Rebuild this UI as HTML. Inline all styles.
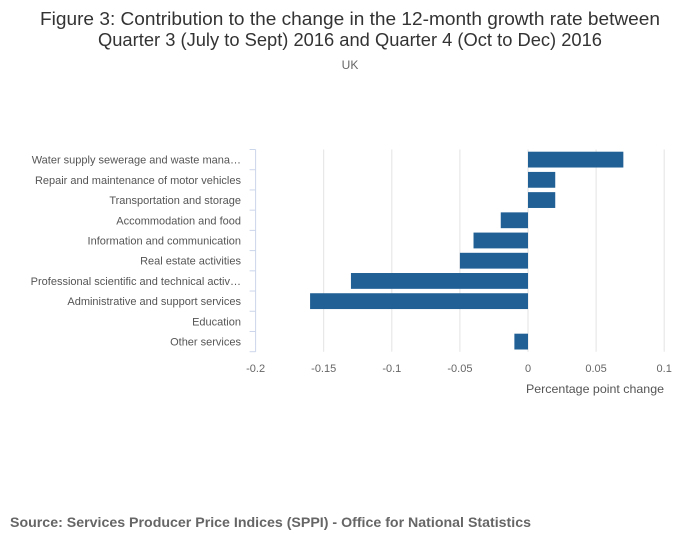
<!DOCTYPE html>
<html><head><meta charset="utf-8"><style>
body{margin:0;background:#fff;}
svg{display:block;font-family:"Liberation Sans",sans-serif;}
</style></head><body>
<svg id="chart" width="700" height="549" viewBox="0 0 700 549">
<text x="350" y="25" text-anchor="middle" font-size="18" fill="#333" textLength="620" lengthAdjust="spacingAndGlyphs">Figure 3: Contribution to the change in the 12-month growth rate between</text>
<text x="350" y="46" text-anchor="middle" font-size="18" fill="#333" textLength="504" lengthAdjust="spacingAndGlyphs">Quarter 3 (July to Sept) 2016 and Quarter 4 (Oct to Dec) 2016</text>
<text x="350" y="69" text-anchor="middle" font-size="12" fill="#666">UK</text>
<g id="grid"></g><g id="bars"></g><g id="axes"></g>
<text x="664" y="393" text-anchor="end" font-size="12" fill="#555" textLength="138" lengthAdjust="spacingAndGlyphs">Percentage point change</text>
<text x="10" y="527" font-size="14" font-weight="bold" fill="#666" textLength="521" lengthAdjust="spacingAndGlyphs">Source: Services Producer Price Indices (SPPI) - Office for National Statistics</text>
</svg>
<script>
const categories=["Water supply sewerage and waste mana…","Repair and maintenance of motor vehicles","Transportation and storage","Accommodation and food","Information and communication","Real estate activities","Professional scientific and technical activ…","Administrative and support services","Education","Other services"];
const values=[0.07,0.02,0.02,-0.02,-0.04,-0.05,-0.13,-0.16,0,-0.01];
const tickValues=[-0.2,-0.15,-0.1,-0.05,0,0.05,0.1];
const tickLabels=["-0.2","-0.15","-0.1","-0.05","0","0.05","0.1"];
const NS="http://www.w3.org/2000/svg";
const x0=255.6,x1=664.2,dmin=-0.2,dmax=0.1,yTop=149.5,yBot=351.7;
const xs=v=>x0+(v-dmin)/(dmax-dmin)*(x1-x0);
const rowH=(yBot-yTop)/categories.length;
const ys=i=>yTop+i*rowH;
function mk(t,a,p){const e=document.createElementNS(NS,t);for(const k in a)e.setAttribute(k,a[k]);p.appendChild(e);return e;}
const grid=document.getElementById('grid'),bars=document.getElementById('bars'),axes=document.getElementById('axes');
tickValues.forEach((v,i)=>{
  if(i>0){const g=mk('line',{x1:xs(v),x2:xs(v),y1:yTop,y2:yBot,stroke:'#e3e3e3','stroke-width':1},grid);
  
  }
  const t=mk('text',{x:xs(v),y:372,'text-anchor':'middle','font-size':11,fill:'#666'},axes);
  t.textContent=tickLabels[i];
  
  
});
const ax=mk('line',{x1:x0,x2:x0,y1:yTop,y2:yBot,stroke:'#ccd6eb','stroke-width':1},axes);


for(let i=0;i<=categories.length;i++){
  const tk=mk('line',{x1:x0-6,x2:x0,y1:ys(i),y2:ys(i),stroke:'#ccd6eb','stroke-width':1},axes);
  
  
}
categories.forEach((c,i)=>{
  const t=mk('text',{x:241,y:ys(i)+rowH/2+4,'text-anchor':'end','font-size':11,fill:'#555'},axes);
  t.textContent=c;
  
  
  const v=values[i];
  const a=xs(Math.min(0,v)),b=xs(Math.max(0,v));
  if(b-a>0){
  const r=mk('rect',{x:a,y:ys(i)+2.2,width:b-a,height:rowH-4.4,fill:'#206095'},bars);
  
  }
});
</script>
</body></html>
